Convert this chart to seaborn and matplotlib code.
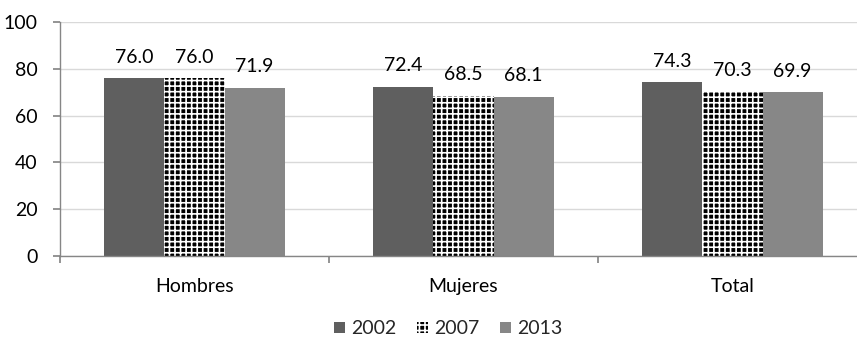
import matplotlib
matplotlib.use("Agg")
import matplotlib.pyplot as plt
import seaborn as sns
import pandas as pd

categories = ["Hombres", "Mujeres", "Total"]
years = ["2002", "2007", "2013"]
values_2002 = [76.0, 72.4, 74.3]
values_2007 = [76.0, 68.5, 70.3]
values_2013 = [71.9, 68.1, 69.9]

rows = []
for yr, vals in zip(years, [values_2002, values_2007, values_2013]):
    for cat, v in zip(categories, vals):
        rows.append({"cat": cat, "year": yr, "value": v})
df = pd.DataFrame(rows)

sns.set_theme(style="white")
plt.rcParams["font.family"] = ["Lato", "DejaVu Sans"]
plt.rcParams["hatch.linewidth"] = 1.2

palette = {"2002": "#5f5f5f", "2007": "#000000", "2013": "#878787"}
FS = 14
HATCH = "+++"

fig = plt.figure(figsize=(8.57, 3.41), dpi=100)
ax = fig.add_axes([0.0700, 0.2493, 0.9417, 0.686])

sns.barplot(data=df, x="cat", y="value", hue="year", palette=palette,
            width=0.67, ax=ax, saturation=1, legend=True, linewidth=0)

# checkered texture for the 2007 series
for container, yr in zip(ax.containers, years):
    if yr == "2007":
        for p in container:
            p.set_hatch(HATCH)
            p.set_edgecolor("#ffffff")
            p.set_linewidth(0)
    ax.bar_label(container, fmt="%.1f", padding=9, fontsize=FS, color="#000000")

ax.set_ylim(0, 100)
ax.set_yticks(range(0, 101, 20))
ax.set_xlim(-0.5, 2.5)
ax.set_xlabel("")
ax.set_ylabel("")
ax.yaxis.grid(True, color="#d9d9d9", linewidth=1)
ax.set_axisbelow(True)
for s in ["top", "right"]:
    ax.spines[s].set_visible(False)
for s in ["left", "bottom"]:
    ax.spines[s].set_color("#868686")
    ax.spines[s].set_linewidth(1)

ax.tick_params(axis="y", left=True, length=5, color="#868686", labelsize=FS,
               labelcolor="#000000", pad=11)
ax.set_xticks([-0.5, 0.5, 1.5, 2.5], minor=False)
ax.set_xticklabels([])
ax.tick_params(axis="x", bottom=True, length=5, color="#868686")
ax.set_xticks([0, 1, 2], minor=True)
ax.set_xticklabels(categories, minor=True)
ax.tick_params(axis="x", which="minor", bottom=False, labelsize=FS,
               labelcolor="#000000", pad=12)

handles, labels = ax.get_legend_handles_labels()
for h, lab in zip(handles, labels):
    h.set_linewidth(0)
    if lab == "2007":
        h.set_hatch(HATCH)
        h.set_edgecolor("#ffffff")
ax.legend(handles, labels, loc="center", bbox_to_anchor=(0.481, -0.312),
          ncol=3, frameon=False, fontsize=FS, handlelength=0.55, handleheight=0.55,
          handletextpad=0.3, columnspacing=1.1)

fig.savefig("out.png", dpi=100)
